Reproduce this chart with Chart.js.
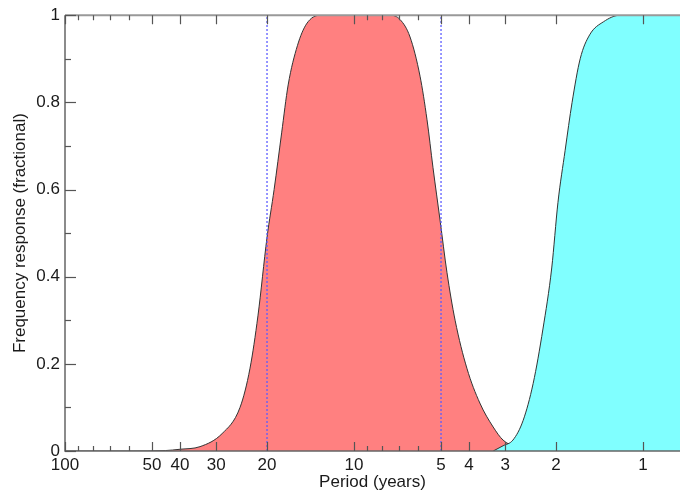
<!DOCTYPE html>
<html>
<head>
<meta charset="utf-8">
<script src="https://cdn.jsdelivr.net/npm/chart.js@4.4.1/dist/chart.umd.min.js"></script>
<style>
  html, body { margin: 0; padding: 0; background: #fff; }
  canvas { display: block; }
</style>
</head>
<body>
<canvas id="FilterChart" width="680" height="494"></canvas>
<script>
// tick values (period in years, log axis, reversed)
const periodTicks = [100, 50, 40, 30, 20, 10, 5, 4, 3, 2, 1];
const periodMinorTicks = [90, 80, 70, 60, 9, 8, 7, 6];
const responseTicks = [0, 0.2, 0.4, 0.6, 0.8, 1];
const responseMinorTicks = [0.1, 0.3, 0.5, 0.7, 0.9];
const periodMin = 0.745;
const periodMax = 100;

// band edges (dotted lines)
const bandEdges = [20, 5];

// band-pass filter response (red)
const bandPeriods = [100, 60, 45, 40, 34.1, 28.6, 24.8, 22.9, 21.5, 20, 18.9, 17.8, 16.9, 15.7, 14.6, 13.1,
  7.5, 6.93, 6.4, 5.91, 5.59, 5.33, 5.04, 4.77, 4.47, 4.07, 3.67, 3.3, 3.05, 2.77, 2.5];
const bandResponse = [0, 0, 0.001, 0.004, 0.01, 0.04, 0.1, 0.19, 0.31, 0.49, 0.6, 0.73, 0.84, 0.93, 0.98, 1,
  1, 0.99, 0.95, 0.86, 0.76, 0.65, 0.53, 0.41, 0.3, 0.19, 0.11, 0.055, 0.025, 0.01, 0.003];

// high-pass filter response (cyan)
const highPeriods = [3.3, 3.05, 2.82, 2.6, 2.4, 2.22, 2.07, 1.97, 1.86, 1.76, 1.65, 1.53, 1.37, 1.2, 0.745];
const highResponse = [0, 0.012, 0.025, 0.07, 0.155, 0.28, 0.42, 0.57, 0.69, 0.8, 0.9, 0.955, 0.985, 1, 1];

const toPoints = (xs, ys) => xs.map((p, i) => ({ x: p, y: ys[i] }));

// inward tick marks + frame, drawn over the filled areas
const frameTicks = {
  id: "frameTicks",
  afterDatasetsDraw(chart) {
    const { ctx, chartArea: a, scales: { x, y } } = chart;
    ctx.save();

    // top line
    ctx.strokeStyle = "#999";
    ctx.lineWidth = 2;
    ctx.beginPath();
    ctx.moveTo(a.left, a.top);
    ctx.lineTo(a.right, a.top);
    ctx.stroke();

    // left + bottom axis
    ctx.strokeStyle = "#666";
    ctx.lineWidth = 1.5;
    ctx.beginPath();
    ctx.moveTo(a.left, a.top);
    ctx.lineTo(a.left, a.bottom);
    ctx.lineTo(a.right, a.bottom);
    ctx.stroke();

    ctx.strokeStyle = "#555";
    ctx.lineWidth = 1.2;

    function tickX(v, len) {
      const px = Math.round(x.getPixelForValue(v)) + 0.5;
      ctx.beginPath();
      ctx.moveTo(px, a.bottom);
      ctx.lineTo(px, a.bottom - len);
      ctx.moveTo(px, a.top);
      ctx.lineTo(px, a.top + len);
      ctx.stroke();
    }

    function tickY(v, len) {
      const py = Math.round(y.getPixelForValue(v)) + 0.5;
      ctx.beginPath();
      ctx.moveTo(a.left, py);
      ctx.lineTo(a.left + len, py);
      ctx.stroke();
    }

    periodTicks.forEach(v => tickX(v, 9));
    periodMinorTicks.forEach(v => tickX(v, 5));
    responseTicks.forEach(v => tickY(v, 11));
    responseMinorTicks.forEach(v => tickY(v, 6));

    ctx.restore();
  }
};

Chart.defaults.font.family = "'Liberation Sans', Arial, sans-serif";
Chart.defaults.font.size = 17;
Chart.defaults.color = "#1a1a1a";

const ctx = document.getElementById("FilterChart").getContext("2d");

const edgeSets = bandEdges.map(p => ({
  data: [{ x: p, y: 0 }, { x: p, y: 1 }],
  borderColor: "rgba(90, 90, 255, 0.85)",
  borderWidth: 1.5,
  borderDash: [2, 2],
  pointRadius: 0,
  fill: false,
  order: 0
}));

new Chart(ctx, {
  type: "line",
  data: {
    datasets: [
      ...edgeSets,
      {
        label: "High pass",
        data: toPoints(highPeriods, highResponse),
        borderColor: "#333",
        borderWidth: 1,
        backgroundColor: "#80ffff",
        fill: "origin",
        cubicInterpolationMode: "monotone",
        pointRadius: 0,
        order: 1
      },
      {
        label: "Band pass",
        data: toPoints(bandPeriods, bandResponse),
        borderColor: "#333",
        borderWidth: 1,
        backgroundColor: "#ff8080",
        fill: "origin",
        cubicInterpolationMode: "monotone",
        pointRadius: 0,
        order: 2
      }
    ]
  },
  options: {
    responsive: false,
    animation: false,
    layout: {
      padding: { top: 14, right: 0, left: 0, bottom: 0 }
    },
    plugins: {
      legend: { display: false },
      tooltip: { enabled: false }
    },
    scales: {
      x: {
        type: "logarithmic",
        reverse: true,
        bounds: "data",
        min: periodMin,
        max: periodMax,
        afterBuildTicks: axis => {
          // keep the exact range, log scale rounds it otherwise
          axis.min = periodMin;
          axis.max = periodMax;
          axis.ticks = periodTicks.map(v => ({ value: v }));
        },
        afterFit: axis => {
          axis.height = 43;
          axis.paddingLeft = 0;
          axis.paddingRight = 0;
        },
        grid: { display: false, drawTicks: false },
        border: { display: false },
        ticks: {
          autoSkip: false,
          maxRotation: 0,
          padding: 4,
          callback: v => String(v)
        },
        title: {
          display: true,
          text: "Period (years)",
          padding: { top: 0, bottom: 1 }
        }
      },
      y: {
        min: 0,
        max: 1,
        afterBuildTicks: axis => {
          axis.ticks = responseTicks.map(v => ({ value: v }));
        },
        afterFit: axis => {
          axis.width = 65;
        },
        grid: { display: false, drawTicks: false },
        border: { display: false },
        ticks: {
          padding: 5,
          callback: v => (v === 0 || v === 1) ? String(v) : v.toFixed(1)
        },
        title: {
          display: true,
          text: "Frequency response (fractional)",
          padding: { top: 10, bottom: 0 }
        }
      }
    }
  },
  plugins: [frameTicks]
});
</script>
</body>
</html>
